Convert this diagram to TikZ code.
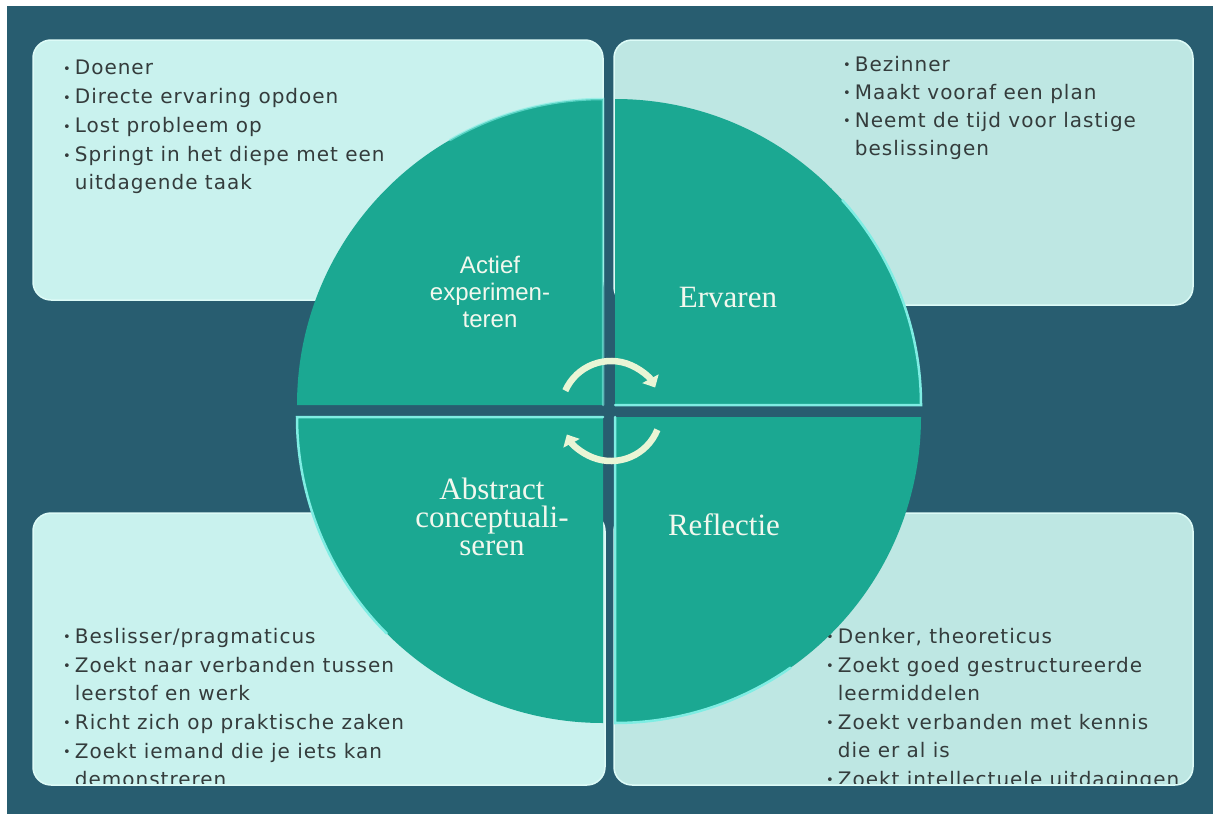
\documentclass[tikz,border=0pt]{standalone}
\usepackage{fontspec}
\setmainfont{DejaVu Sans}
\newfontfamily\listfont[LetterSpace=5]{DejaVu Sans}
\newfontfamily\quadsansfont{Liberation Sans}
\newfontfamily\quadseriffont{Liberation Serif}
\usetikzlibrary{arrows.meta}

\definecolor{bgdark}{HTML}{285D70}
\definecolor{boxlight}{HTML}{C9F2EE}
\definecolor{boxgrey}{HTML}{BEE7E3}
\definecolor{boxrim}{HTML}{DDFBF7}
\definecolor{tealfill}{HTML}{1BA892}
\definecolor{rimcyan}{HTML}{7FEDE3}
\definecolor{turncol}{HTML}{E9F5D5}
\definecolor{textgrey}{HTML}{343C3C}
\definecolor{labelcol}{HTML}{F2F8EE}

\newcommand\bul{\raisebox{1.5pt}{\fontsize{13}{13}\selectfont\textbullet}\hspace{4pt}}
\newcommand\ind{\phantom{\bul}}

\begin{document}
\begin{tikzpicture}[x=1pt,y=-1pt,
	infobox/.style={draw=boxrim,line width=1.5pt,rounded corners=18pt,inner sep=0pt},
	listtext/.style={anchor=north west,align=left,inner sep=0pt,text=textgrey,font=\listfont\fontsize{20}{28}\selectfont},
	quadsans/.style={align=center,text=labelcol,font=\quadsansfont\fontsize{24}{27}\selectfont},
	quadserif/.style={align=center,text=labelcol,font=\quadseriffont\fontsize{31}{28}\selectfont},
	quad/.style={fill=tealfill},
	rim/.style={draw=rimcyan,line width=2.5pt,line cap=round},
	turnarrow/.style={draw=turncol,line width=6.5pt,-{Triangle[length=10pt,width=18pt]}}]
	\useasboundingbox (0,0) rectangle (1213,814);
	\fill[white] (0,0) rectangle (1213,814);
	\fill[bgdark] (7,6) rectangle (1213,814);

	\node[infobox,fill=boxlight,minimum width=570pt,minimum height=260pt] (doenbox) at (318,170) {};
	\node[infobox,fill=boxgrey,minimum width=579pt,minimum height=265pt] (bezinbox) at (903.5,172.5) {};
	\node[infobox,fill=boxlight,minimum width=572pt,minimum height=272pt] (beslisbox) at (319,649) {};
	\node[infobox,fill=boxgrey,minimum width=579pt,minimum height=272pt] (denkbox) at (903.5,649) {};

	\begin{scope}
		\clip[rounded corners=16pt] ([shift={(2,2)}]doenbox.north west) rectangle ([shift={(-2,-2)}]doenbox.south east);
		\node[listtext] (doener) at (63,60) {\bul Doener\\[1pt]\bul Directe ervaring opdoen\\[1pt]\bul Lost probleem op\\[1pt]\bul Springt in het diepe met een\\\ind uitdagende taak};
	\end{scope}
	\begin{scope}
		\clip[rounded corners=16pt] ([shift={(2,2)}]bezinbox.north west) rectangle ([shift={(-2,-2)}]bezinbox.south east);
		\node[listtext] (bezinner) at (843,56) {\bul Bezinner\\\bul Maakt vooraf een plan\\\bul Neemt de tijd voor lastige\\\ind beslissingen};
	\end{scope}
	\begin{scope}
		\clip[rounded corners=16pt] ([shift={(2,2)}]beslisbox.north west) rectangle ([shift={(-2,-2)}]beslisbox.south east);
		\node[listtext] (beslisser) at (63,628) {\bul Beslisser/pragmaticus\\[1pt]\bul Zoekt naar verbanden tussen\\\ind leerstof en werk\\[1pt]\bul Richt zich op praktische zaken\\[1pt]\bul Zoekt iemand die je iets kan\\\ind demonstreren};
	\end{scope}
	\begin{scope}
		\clip[rounded corners=16pt] ([shift={(2,2)}]denkbox.north west) rectangle ([shift={(-2,-2)}]denkbox.south east);
		\node[listtext] (denker) at (826,628) {\bul Denker, theoreticus\\[1pt]\bul Zoekt goed gestructureerde\\\ind leermiddelen\\[1pt]\bul Zoekt verbanden met kennis\\\ind die er al is\\[1pt]\bul Zoekt intellectuele uitdagingen};
	\end{scope}

	\fill[quad] (603,405) -- ++(180:306) arc[start angle=180,end angle=270,radius=306] -- cycle;
	\fill[quad] (615,405) -- ++(270:306) arc[start angle=270,end angle=360,radius=306] -- cycle;
	\fill[quad] (615,417) -- ++(0:306) arc[start angle=0,end angle=90,radius=306] -- cycle;
	\fill[quad] (603,417) -- ++(90:306) arc[start angle=90,end angle=180,radius=306] -- cycle;
	\draw[rim,draw opacity=.6] (603,405) -- ++(270:306) arc[start angle=270,end angle=240,radius=306];
	\draw[rim] (615,405) -- ++(0:306) arc[start angle=360,end angle=318,radius=306];
	\draw[rim] (615,417) -- ++(90:306) arc[start angle=90,end angle=55,radius=306];
	\draw[rim] (603,417) -- ++(180:306) arc[start angle=180,end angle=135,radius=306];

	\node[quadsans] (actief) at (490,292) {Actief\\experimen-\\teren};
	\node[quadserif] (ervaren) at (728,297) {Ervaren};
	\node[quadserif] (abstract) at (492,517) {Abstract\\conceptuali-\\seren};
	\node[quadserif] (reflectie) at (724,525) {Reflectie};

	\coordinate (hub) at (611,411);
	\draw[turnarrow] (hub) ++(204:50) arc[start angle=204,end angle=332,radius=50];
	\draw[turnarrow] (hub) ++(22:50) arc[start angle=22,end angle=152,radius=50];
\end{tikzpicture}
\end{document}
